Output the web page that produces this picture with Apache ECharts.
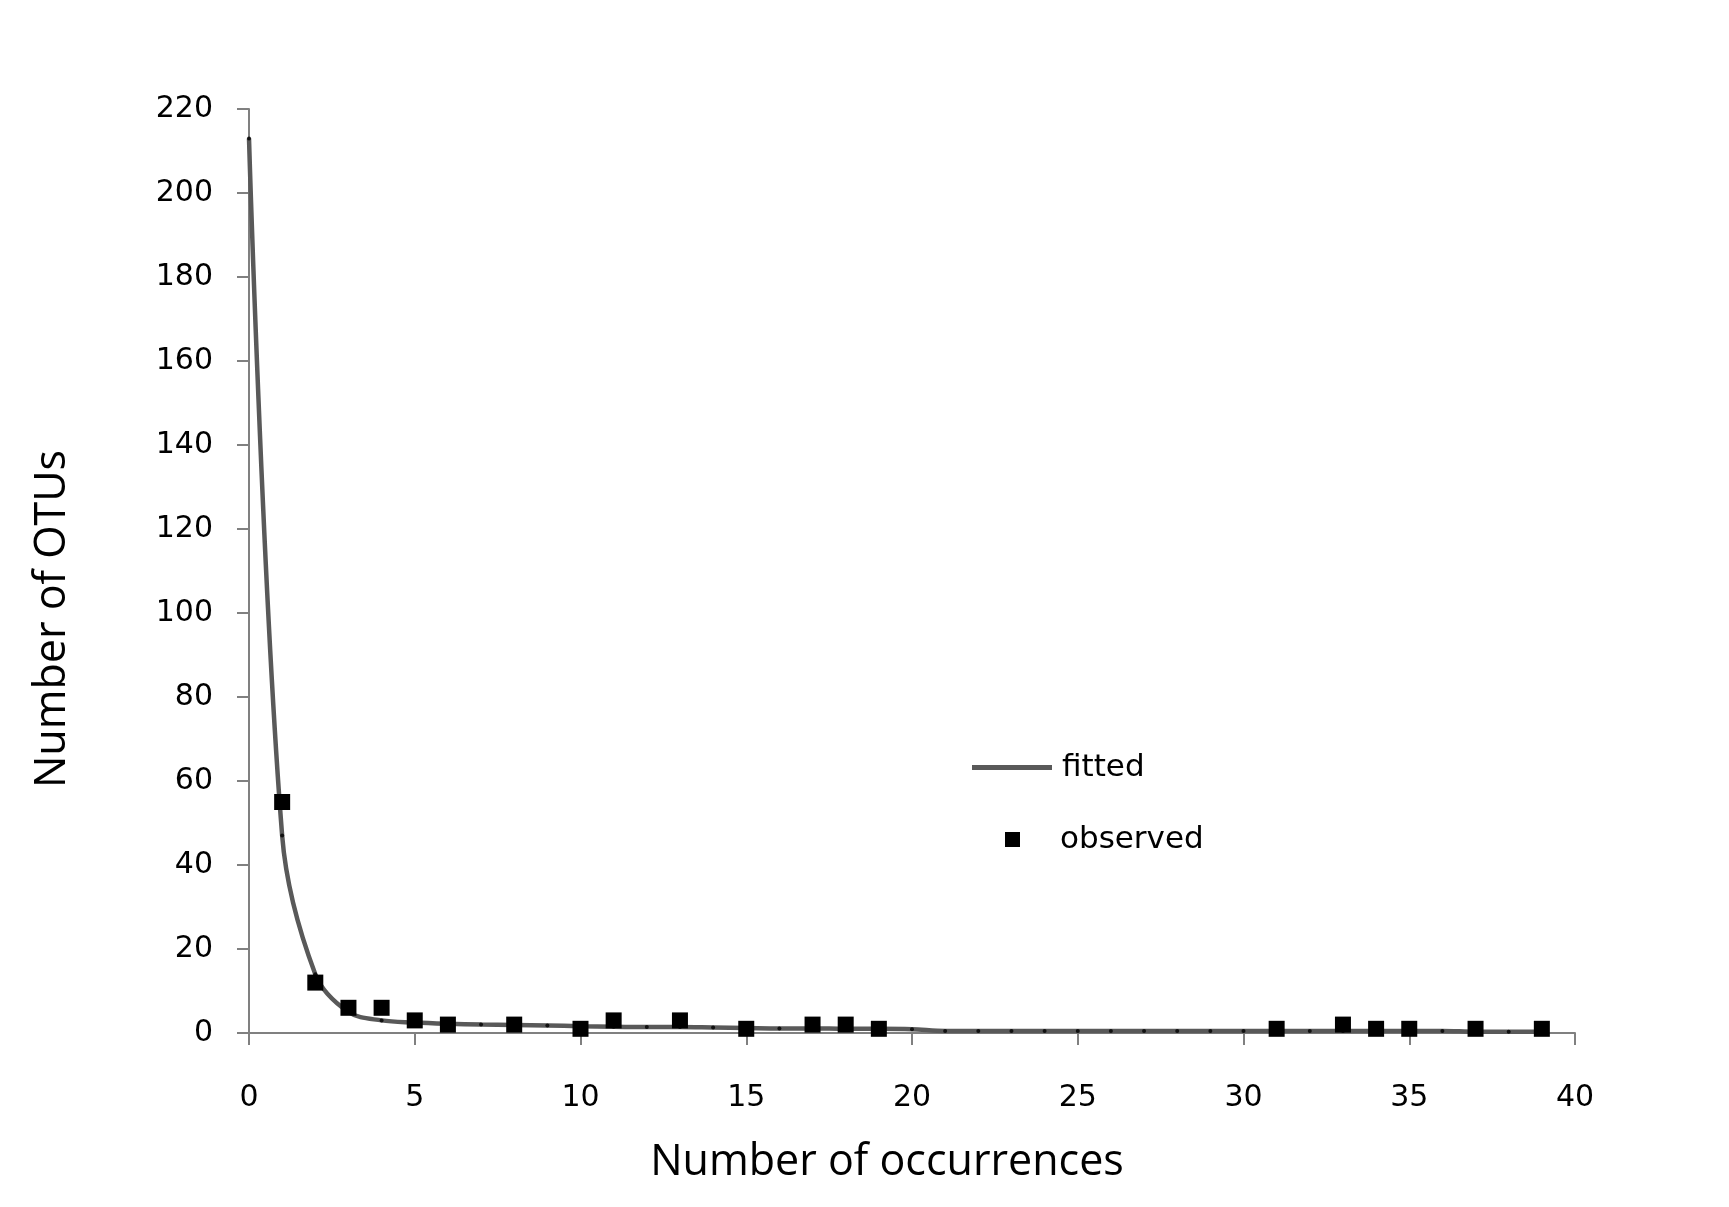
<!DOCTYPE html>
<html>
<head>
<meta charset="utf-8">
<script src="https://cdn.jsdelivr.net/npm/echarts@6/dist/echarts.min.js"></script>
<style>
  html, body { margin: 0; padding: 0; background: #fff; }
  #chart { width: 1729px; height: 1207px; }
</style>
</head>
<body>
<div id="chart"></div>
<script>
// observed counts
var obsX = [1, 2, 3, 4, 5, 6, 8, 10, 11, 13, 15, 17, 18, 19, 31, 33, 34, 35, 37, 39];
var obsY = [55, 12, 6, 6, 3, 2, 2, 1, 3, 3, 1, 2, 2, 1, 1, 2, 1, 1, 1, 1];
// fitted curve, one value per occurrence 0..39
var fitX = [0, 1, 2, 3, 4, 5, 6, 7, 8, 9, 10, 11, 12, 13, 14, 15, 16, 17, 18, 19,
  20, 21, 22, 23, 24, 25, 26, 27, 28, 29, 30, 31, 32, 33, 34, 35, 36, 37, 38, 39];
var fitY = [213, 47, 14, 5, 3, 2.5, 2.2, 2, 1.9, 1.8, 1.6, 1.5, 1.4, 1.4, 1.3, 1.2, 1.1, 1.1, 1, 1,
  0.9, 0.5, 0.5, 0.5, 0.5, 0.5, 0.5, 0.5, 0.5, 0.5, 0.5, 0.5, 0.5, 0.5, 0.5, 0.5, 0.5, 0.3, 0.3, 0.3];
var xTicks = [0, 40, 5];
var yTicks = [0, 220, 20];

function pairs(xs, ys) {
  var out = [];
  for (var i = 0; i < xs.length; i++) {
    out.push([xs[i], ys[i]]);
  }
  return out
}

var myChart = echarts.init(document.getElementById('chart'));
var option = {
  backgroundColor: '#fff',
  animation: false,
  grid: {left: 249, right: 154, top: 109, bottom: 174},
  legend: [
    {
      data: [{name: 'fitted', icon: 'rect'}],
      left: 972, top: 752, padding: 0,
      itemWidth: 80, itemHeight: 5,
      itemStyle: {color: '#595959'},
      textStyle: {fontFamily: 'DejaVu Sans', fontSize: 31, color: '#000', padding: [0, 0, 0, 5]}
    },
    {
      data: [{name: 'observed', icon: 'rect'}],
      left: 1005, top: 824, padding: 0,
      itemWidth: 15, itemHeight: 15,
      textStyle: {fontFamily: 'DejaVu Sans', fontSize: 31, color: '#000', padding: [0, 0, 0, 35]}
    }
  ],
  xAxis: {
    type: 'value',
    min: xTicks[0], max: xTicks[1], interval: xTicks[2],
    name: 'Number of occurrences',
    nameLocation: 'middle',
    nameGap: 108,
    nameTextStyle: {fontFamily: 'Open Sans', fontSize: 43, color: '#000', padding: [0, 50, 0, 0]},
    axisLine: {lineStyle: {color: '#808080', width: 2}},
    axisTick: {length: 12, lineStyle: {color: '#808080', width: 2}},
    axisLabel: {margin: 50, fontFamily: 'DejaVu Sans', fontSize: 30, color: '#000'},
    splitLine: {show: false}
  },
  yAxis: {
    type: 'value',
    min: yTicks[0], max: yTicks[1], interval: yTicks[2],
    name: 'Number of OTUs',
    nameLocation: 'middle',
    nameGap: 175,
    nameTextStyle: {fontFamily: 'Open Sans', fontSize: 43, color: '#000', padding: [0, 96, 0, 0]},
    axisLine: {lineStyle: {color: '#808080', width: 2}},
    axisTick: {length: 12, lineStyle: {color: '#808080', width: 2}},
    axisLabel: {margin: 36, fontFamily: 'DejaVu Sans', fontSize: 30, color: '#000'},
    splitLine: {show: false}
  },
  series: [
    {
      name: 'fitted',
      type: 'line',
      data: pairs(fitX, fitY),
      smooth: 0.35,
      symbol: 'none',
      lineStyle: {color: '#595959', width: 4.5},
      itemStyle: {color: '#595959'},
      z: 2
    },
    {
      // small markers sitting on the fitted curve
      name: 'fitted points',
      type: 'scatter',
      data: pairs(fitX, fitY),
      symbol: 'circle',
      symbolSize: 4,
      itemStyle: {color: '#111', opacity: 1},
      z: 3
    },
    {
      name: 'observed',
      type: 'scatter',
      data: pairs(obsX, obsY),
      symbol: 'rect',
      symbolSize: 16,
      itemStyle: {color: '#000', opacity: 1},
      z: 4
    }
  ]
};
myChart.setOption(option, true);
</script>
</body>
</html>
